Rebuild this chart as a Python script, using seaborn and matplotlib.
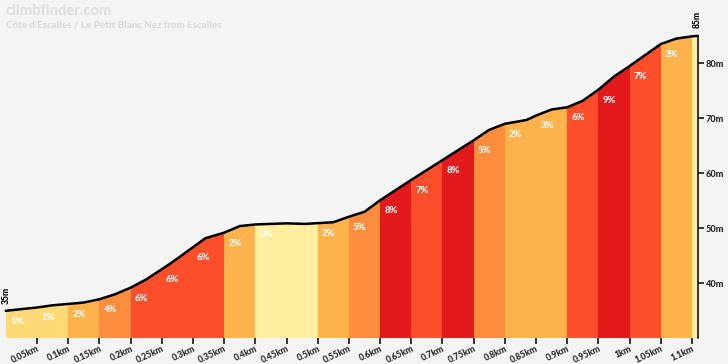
import numpy as np
import matplotlib
matplotlib.use("Agg")
import matplotlib.pyplot as plt
import seaborn as sns

# profile (km, m)
dist = [0, 0.05, 0.075, 0.125, 0.15, 0.175, 0.2, 0.225, 0.26, 0.275, 0.32, 0.35,
        0.375, 0.4, 0.45, 0.48, 0.525, 0.55, 0.575, 0.6, 0.65, 0.7, 0.75, 0.775,
        0.8, 0.835, 0.85, 0.875, 0.9, 0.925, 0.95, 0.975, 1.0, 1.05, 1.075, 1.1, 1.109]
elev = [35.0, 35.6, 36.0, 36.5, 37.1, 38.0, 39.2, 40.7, 43.3, 44.5, 48.2, 49.2,
        50.4, 50.7, 50.9, 50.8, 51.1, 52.1, 53.0, 55.1, 58.8, 62.4, 66.0, 67.9,
        69.0, 69.7, 70.5, 71.6, 72.0, 73.2, 75.2, 77.6, 79.5, 83.5, 84.5, 84.9, 85.0]

# 50 m segments and their gradients
seg_start = [0, 0.05, 0.1, 0.15, 0.2, 0.25, 0.3, 0.35, 0.4, 0.45, 0.5, 0.55,
             0.6, 0.65, 0.7, 0.75, 0.8, 0.85, 0.9, 0.95, 1.0, 1.05, 1.1]
seg_grade = [1, 1, 2, 4, 6, 6, 6, 2, 0, 0, 2, 5, 8, 7, 8, 5, 2, 3, 6, 9, 7, 3, 0]
seg_label = ["1%", "1%", "2%", "4%", "6%", "6%", "6%", "2%", "0%", "", "2%", "5%",
             "8%", "7%", "8%", "5%", "2%", "3%", "6%", "9%", "7%", "3%", ""]

xticks = [0.05, 0.1, 0.15, 0.2, 0.25, 0.3, 0.35, 0.4, 0.45, 0.5, 0.55, 0.6,
          0.65, 0.7, 0.75, 0.8, 0.85, 0.9, 0.95, 1.0, 1.05, 1.1]
yticks = [40, 50, 60, 70, 80]

grade_colors = {0: "#ffeda0", 1: "#fed976", 2: "#feb24c", 3: "#feb24c",
                4: "#fd8d3c", 5: "#fd8d3c", 6: "#fc4e2a", 7: "#fc4e2a",
                8: "#e31a1c", 9: "#e31a1c"}

bg = "#f4f4f4"
sns.set_theme(style="white", rc={"figure.facecolor": bg, "axes.facecolor": bg})
plt.rcParams["font.family"] = ["Lato", "DejaVu Sans"]
W = "black"  # heavy weight for all labels

fig = plt.figure(figsize=(7.28, 3.64), dpi=100)
ax = fig.add_axes([5.8 / 728, 25.7 / 364, 691.8 / 728, 302.5 / 364])

total = dist[-1]
ymin, ymax = 30, 85
ax.set_xlim(0, total)
ax.set_ylim(ymin, ymax)

# profile polygon used as clip for coloured segments
poly = ax.fill_between(dist, elev, ymin, color="none", lw=0)
clip = poly.get_paths()[0]

widths = [b - a for a, b in zip(seg_start, seg_start[1:] + [total])]
colors = [grade_colors[g] for g in seg_grade]
bars = ax.bar(seg_start, ymax - ymin, bottom=ymin, width=widths, align="edge",
              color=colors, linewidth=0)
for b in bars:
    b.set_clip_path(clip, ax.transData)

sns.lineplot(x=dist, y=elev, ax=ax, color="black", lw=1.8, clip_on=False,
             zorder=5)

for s, lab in zip(seg_start, seg_label):
    if not lab:
        continue
    y0 = np.interp(s, dist, elev)
    ax.annotate(lab, xy=(s, y0), xytext=(3.0, -7.5), textcoords="offset points",
                ha="left", va="center", color="white", fontsize=6.8,
                fontweight=W, zorder=6)

# start / end elevation marks
ax.annotate(f"{elev[0]:.0f}m", xy=(0, elev[0]), xytext=(0, 5),
            textcoords="offset points", rotation=90, ha="center", va="bottom",
            fontsize=6.2, fontweight=W, color="black", annotation_clip=False)
ax.annotate(f"{elev[-1]:.0f}m", xy=(total, elev[-1]), xytext=(0, 5.5),
            textcoords="offset points", rotation=90, ha="center", va="bottom",
            fontsize=6.2, fontweight=W, color="black", annotation_clip=False)

ax.set_xticks(xticks)
ax.set_xticklabels([f"{v:g}km" for v in xticks], rotation=25, ha="right",
                   rotation_mode="anchor", fontsize=6.3, fontweight=W)
ax.yaxis.tick_right()
ax.set_yticks(yticks)
ax.set_yticklabels([f"{v}m" for v in yticks], fontsize=6.6, fontweight=W)
ax.tick_params(axis="x", direction="out", length=4, width=1.1, color="black",
               pad=0.5, bottom=True)
ax.tick_params(axis="y", direction="out", length=4, width=1.1, color="black",
               pad=2, right=True, left=False)
ax.set_xlabel("")
ax.set_ylabel("")
for side in ["left", "top", "bottom"]:
    ax.spines[side].set_visible(False)
ax.spines["right"].set_color("black")
ax.spines["right"].set_linewidth(1.1)
ax.grid(False)

fig.text(6 / 728, 1 - 4 / 364, "climbfinder.com", ha="left", va="top",
         fontsize=10.5, fontweight=W, color="#dedede")
fig.text(6 / 728, 1 - 20 / 364, "Côte d'Escalles / Le Petit Blanc Nez from Escalles",
         ha="left", va="top", fontsize=7, fontweight=W, color="#dadada")

fig.savefig("out.png", dpi=100, facecolor=bg)
